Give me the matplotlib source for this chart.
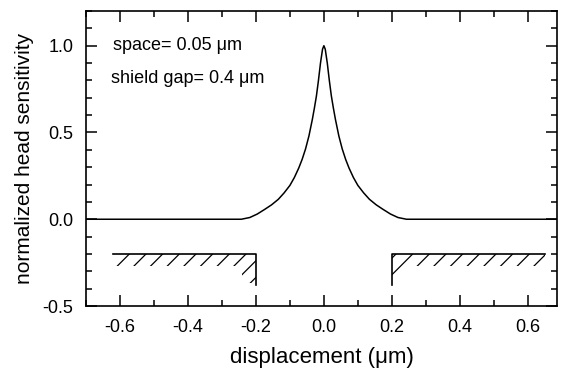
import matplotlib.pyplot as plt
from matplotlib.patches import Polygon
from matplotlib.ticker import MultipleLocator

plt.rcParams["font.family"] = ["Liberation Sans", "DejaVu Sans"]
plt.rcParams["hatch.linewidth"] = 0.9

# head sensitivity curve
disp = [-0.70, -0.243, -0.218, -0.196, -0.174, -0.154, -0.134, -0.117, -0.100,
        -0.087, -0.074, -0.064, -0.054, -0.044, -0.034, -0.028, -0.022, -0.016,
        -0.010, -0.004, 0.0,
        0.004, 0.010, 0.016, 0.022, 0.028, 0.034, 0.044, 0.054, 0.064, 0.074,
        0.087, 0.100, 0.117, 0.134, 0.154, 0.174, 0.196, 0.218, 0.243, 0.70]
sens = [0.0, 0.0, 0.010, 0.030, 0.057, 0.083, 0.115, 0.152, 0.195,
        0.240, 0.295, 0.345, 0.405, 0.480, 0.575, 0.640, 0.710, 0.800,
        0.900, 0.980, 1.0,
        0.980, 0.900, 0.800, 0.710, 0.640, 0.575, 0.480, 0.405, 0.345, 0.295,
        0.240, 0.195, 0.152, 0.115, 0.083, 0.057, 0.030, 0.010, 0.0, 0.0]

# shields: surface level, bottom of the gap edge, extent of each shield
shield_top = -0.2
shield_bottom = -0.38
left_shield = (-0.62, -0.2)
right_shield = (0.2, 0.65)

fig = plt.figure(figsize=(5.61, 3.73), dpi=100)
ax = fig.add_axes([0.1533, 0.1796, 0.8396, 0.7909])

ax.plot(disp, sens, color="black", lw=1.1)

t = 0.067  # hatched strip thickness under the surface
w = 0.04   # hatched strip width along the gap edge
for outer, edge, sign, low in [(left_shield[0], left_shield[1], -1, -0.37),
                               (right_shield[1], right_shield[0], 1, -0.33)]:
    ax.plot([outer, edge, edge], [shield_top, shield_top, shield_bottom],
            color="black", lw=1.2)
    poly = [(outer, shield_top), (edge, shield_top), (edge, low),
            (edge + sign * w, low), (edge + sign * w, shield_top - t),
            (outer, shield_top - t)]
    ax.add_patch(Polygon(poly, closed=True, fill=False, hatch="//",
                         edgecolor="black", lw=0))

ax.set_xlim(-0.7, 0.686)
ax.set_ylim(-0.5, 1.2)
ax.xaxis.set_major_locator(MultipleLocator(0.2))
ax.xaxis.set_minor_locator(MultipleLocator(0.1))
ax.yaxis.set_major_locator(MultipleLocator(0.5))
ax.yaxis.set_minor_locator(MultipleLocator(0.1))
ax.tick_params(which="both", direction="in", top=True, right=True,
               labelsize=13, width=1.1)
ax.tick_params(which="major", length=8, pad=9)
ax.tick_params(which="minor", length=4)
ax.set_xticks([-0.6, -0.4, -0.2, 0.0, 0.2, 0.4, 0.6])
ax.set_xticklabels(["-0.6", "-0.4", "-0.2", "0.0", "0.2", "0.4", "0.6"])
ax.set_yticks([-0.5, 0.0, 0.5, 1.0])
ax.set_yticklabels(["-0.5", "0.0", "0.5", "1.0"])
for s in ax.spines.values():
    s.set_linewidth(1.2)

ax.text(-0.62, 1.0, "space= 0.05 \u03bcm", fontsize=13, va="center")
ax.text(-0.625, 0.81, "shield gap= 0.4 \u03bcm", fontsize=13, va="center")
ax.set_xlabel("displacement (\u03bcm)", fontsize=16, labelpad=8)
ax.set_ylabel("normalized head sensitivity", fontsize=15, labelpad=6)

fig.savefig("out.png", dpi=100)
